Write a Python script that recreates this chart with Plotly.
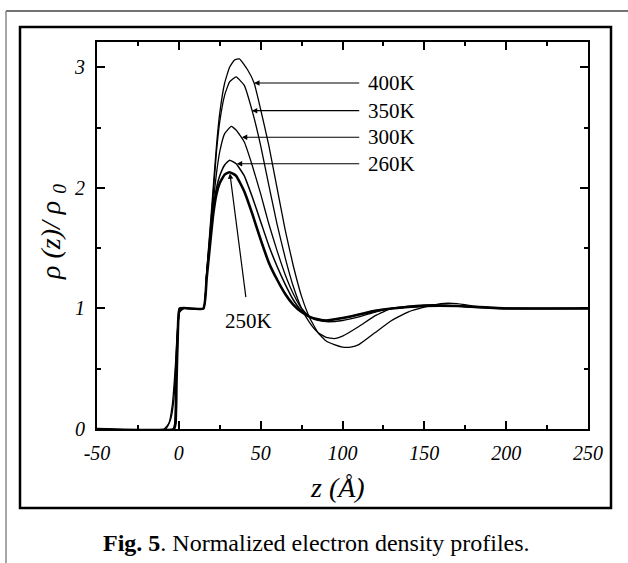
import plotly.graph_objects as go

# ---- data ----
z_400 = [-50, -9, -6, -4, -2, -1, 0.5, 3, 15, 17, 19, 21, 23, 25, 28, 31, 34, 37, 42, 46, 50, 55, 60, 65, 70, 75, 80, 85, 90, 95, 100, 105, 110, 120, 130, 140, 150, 160, 170, 180, 200, 250]
r_400 = [0, 0, 0.05, 0.2, 0.55, 0.8, 0.97, 1.0, 1.0, 1.3, 1.65, 2.0, 2.35, 2.62, 2.87, 3.0, 3.06, 3.07, 2.98, 2.87, 2.65, 2.35, 2.0, 1.65, 1.35, 1.1, 0.92, 0.8, 0.73, 0.7, 0.68, 0.68, 0.7, 0.8, 0.9, 0.97, 1.01, 1.04, 1.04, 1.02, 1.0, 1.0]

z_350 = [-50, -8, -5, -3, -2, -1, 0.5, 3, 15, 17, 19, 21, 23, 25, 28, 31, 35, 40, 45, 50, 55, 60, 65, 70, 75, 80, 85, 90, 95, 100, 110, 120, 130, 140, 150, 160, 180, 200, 250]
r_350 = [0, 0, 0.08, 0.25, 0.5, 0.78, 0.97, 1.0, 1.0, 1.3, 1.62, 1.95, 2.3, 2.55, 2.77, 2.88, 2.92, 2.85, 2.63, 2.35, 2.02, 1.7, 1.42, 1.18, 1.0, 0.88, 0.8, 0.76, 0.75, 0.77, 0.85, 0.94, 1.0, 1.02, 1.03, 1.03, 1.01, 1.0, 1.0]

z_300 = [-50, -3.5, -2, -1, 0, 1, 15, 17, 19, 21, 23, 25, 28, 32, 35, 40, 45, 50, 55, 60, 65, 70, 75, 80, 85, 90, 100, 110, 120, 130, 150, 170, 200, 250]
r_300 = [0, 0, 0.3, 0.7, 0.95, 1.0, 1.0, 1.28, 1.58, 1.88, 2.12, 2.3, 2.45, 2.51, 2.48, 2.38, 2.18, 1.95, 1.7, 1.48, 1.28, 1.12, 1.0, 0.93, 0.9, 0.89, 0.9, 0.93, 0.97, 1.0, 1.02, 1.02, 1.0, 1.0]

z_260 = [-50, -3, -1.5, -0.5, 0.5, 15, 17, 19, 21, 23, 25, 28, 31, 35, 40, 45, 50, 55, 60, 65, 70, 75, 80, 85, 90, 100, 110, 120, 130, 150, 170, 200, 250]
r_260 = [0, 0, 0.4, 0.85, 1.0, 1.0, 1.27, 1.55, 1.82, 2.0, 2.1, 2.19, 2.23, 2.2, 2.1, 1.92, 1.72, 1.52, 1.35, 1.2, 1.07, 0.98, 0.93, 0.91, 0.9, 0.92, 0.95, 0.98, 1.0, 1.02, 1.02, 1.0, 1.0]

z_250 = [-50, -3, -2, -1.5, -0.5, 0.5, 15, 17, 19, 21, 23, 25, 28, 31, 35, 40, 45, 50, 55, 60, 65, 70, 75, 80, 85, 90, 100, 110, 120, 130, 150, 170, 200, 250]
r_250 = [0, 0, 0.05, 0.35, 0.85, 1.0, 1.0, 1.25, 1.52, 1.78, 1.95, 2.04, 2.11, 2.13, 2.1, 1.97, 1.78, 1.57, 1.38, 1.24, 1.12, 1.03, 0.97, 0.93, 0.91, 0.9, 0.92, 0.95, 0.98, 1.0, 1.02, 1.02, 1.0, 1.0]

labels = ["400K", "350K", "300K", "260K"]
label_rho = [2.87, 2.64, 2.42, 2.20]
tip_z = [46, 44.6, 38.5, 35.4]
label_z = 114.5

label_250 = "250K"
label_250_pos = (42.8, 0.9)
tip_250 = (31.2, 2.12)

x_ticks = [-50, 0, 50, 100, 150, 200, 250]
y_ticks = [0, 1, 2, 3]

FONT = "Liberation Serif, Times New Roman, serif"

fig = go.Figure()
series = [(z_400, r_400, 1.3), (z_350, r_350, 1.3), (z_300, r_300, 1.3),
          (z_260, r_260, 1.5), (z_250, r_250, 2.6)]
for zz, rr, w in series:
    fig.add_trace(go.Scatter(x=zz, y=rr, mode="lines",
                             line=dict(color="black", width=w, shape="spline", smoothing=0.4),
                             showlegend=False, hoverinfo="skip"))

for lab, lr, tz in zip(labels, label_rho, tip_z):
    fig.add_annotation(x=tz, y=lr, ax=label_z, ay=lr, axref="x", ayref="y",
                       xref="x", yref="y", text=lab, showarrow=True,
                       xanchor="left", yanchor="middle", startstandoff=7,
                       arrowhead=2, arrowsize=0.9, arrowwidth=1.2, arrowcolor="black",
                       font=dict(family=FONT, size=21, color="black"))

fig.add_annotation(x=tip_250[0], y=tip_250[1], ax=label_250_pos[0], ay=label_250_pos[1],
                   axref="x", ayref="y", xref="x", yref="y", text=label_250, showarrow=True,
                   xanchor="center", yanchor="middle", startstandoff=10,
                   arrowhead=2, arrowsize=0.9, arrowwidth=1.2, arrowcolor="black",
                   font=dict(family=FONT, size=21, color="black"))

# axis titles and caption
fig.add_annotation(x=(337 - 97) / 491, y=(429 - 487) / 387, xref="paper", yref="paper",
                   text="z (Å)", showarrow=False, xanchor="center", yanchor="middle",
                   font=dict(family=FONT, size=28, color="black", style="italic"))
fig.add_annotation(x=(53 - 97) / 491, y=(429 - 232) / 387, xref="paper", yref="paper",
                   text="ρ (z)/ ρ <sub>0</sub>", textangle=-90, showarrow=False,
                   xanchor="center", yanchor="middle",
                   font=dict(family=FONT, size=28, color="black", style="italic"))
fig.add_annotation(x=(316 - 97) / 491, y=(429 - 543) / 387, xref="paper", yref="paper",
                   text="<b>Fig. 5</b>. Normalized electron density profiles.", showarrow=False,
                   xanchor="center", yanchor="middle",
                   font=dict(family=FONT, size=24, color="black"))

# frames
def px2paper(px, py):
    return (px - 97) / 491, (429 - py) / 387

x0, y0 = px2paper(20, 27)
x1, y1 = px2paper(611, 508)
fig.add_shape(type="rect", xref="paper", yref="paper", x0=x0, y0=y1, x1=x1, y1=y0,
              line=dict(color="black", width=2.5), layer="below")
ox0, oy0 = px2paper(6, 11)
ox1, _ = px2paper(640, 11)
_, oyb = px2paper(6, 600)
fig.add_shape(type="line", xref="paper", yref="paper", x0=ox0, y0=oy0, x1=ox1, y1=oy0,
              line=dict(color="#444444", width=1.5))
fig.add_shape(type="line", xref="paper", yref="paper", x0=ox0, y0=oy0, x1=ox0, y1=oyb,
              line=dict(color="#888888", width=1.5))

axis_common = dict(showgrid=False, zeroline=False, showline=True, linecolor="black",
                   linewidth=2, mirror="ticks", ticks="inside", ticklen=8, tickwidth=2,
                   tickcolor="black",
                   tickfont=dict(family=FONT, size=20, color="black", style="italic"))
fig.update_xaxes(range=[-50, 250], tickvals=x_ticks, ticktext=[str(v) for v in x_ticks],
                 minor=dict(ticks="inside", ticklen=4, tickwidth=1.5, dtick=25, tickcolor="black"),
                 ticklabelstandoff=5, **axis_common)
fig.update_yaxes(range=[0, 3.21], tickvals=y_ticks, ticktext=[str(v) for v in y_ticks],
                 minor=dict(ticks="inside", ticklen=4, tickwidth=1.5, dtick=0.5, tickcolor="black"),
                 ticklabelstandoff=6, **axis_common)

fig.update_layout(width=628, height=563, margin=dict(l=97, r=40, t=42, b=134),
                  paper_bgcolor="white", plot_bgcolor="white", showlegend=False)

fig.write_html("out.html", config={"displayModeBar": False},
               post_script="document.body.style.margin='0';")
